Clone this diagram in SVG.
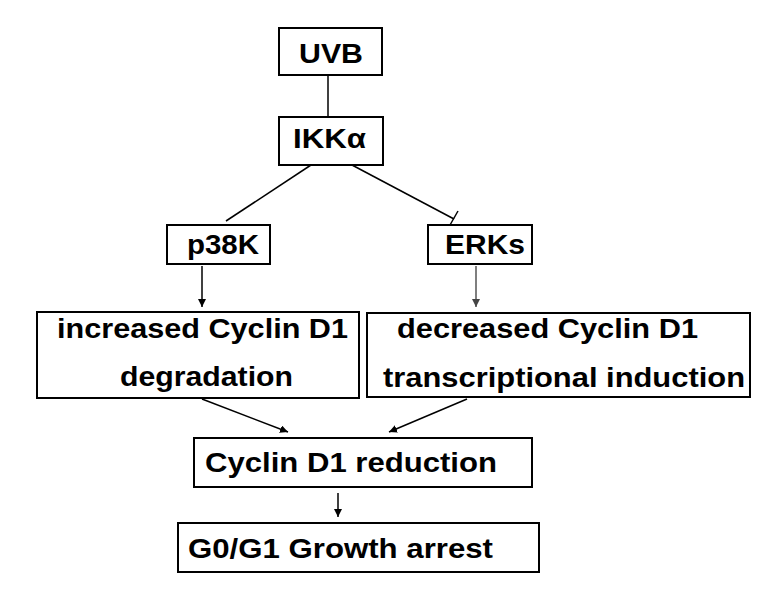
<svg xmlns="http://www.w3.org/2000/svg" width="774" height="600" viewBox="0 0 774 600">
<style>
.box{fill:#fff;stroke:#000;stroke-width:2}
.t{font-family:"Liberation Sans",Arial,sans-serif;font-weight:bold;font-size:27px;fill:#000}
.c{stroke:#000;stroke-width:1.5;fill:none}
</style>
<defs>
<marker id="ah" viewBox="0 0 10 10" refX="10" refY="5" markerWidth="8" markerHeight="8" markerUnits="userSpaceOnUse" orient="auto">
<path d="M0,0 L10,5 L0,10 z" fill="#000"/>
</marker>
<marker id="ahg" viewBox="0 0 10 10" refX="10" refY="5" markerWidth="8" markerHeight="8" markerUnits="userSpaceOnUse" orient="auto">
<path d="M0,0 L10,5 L0,10 z" fill="#444"/>
</marker>
</defs>
<rect width="774" height="600" fill="#fff"/>
<g id="connectors">
<line class="c" x1="328" y1="75" x2="328" y2="117"/>
<line class="c" x1="311" y1="165" x2="226" y2="221"/>
<line class="c" x1="352" y1="165" x2="454" y2="219"/>
<line class="c" x1="458" y1="211" x2="450" y2="225"/>
<line class="c" x1="202" y1="266" x2="202" y2="307" marker-end="url(#ah)"/>
<line class="c" x1="476" y1="266" x2="476" y2="307" stroke="#555" marker-end="url(#ahg)" style="stroke:#555"/>
<line class="c" x1="202" y1="399" x2="288" y2="432" marker-end="url(#ah)"/>
<line class="c" x1="467" y1="399" x2="389" y2="432" marker-end="url(#ah)"/>
<line class="c" x1="338" y1="493" x2="338" y2="517" marker-end="url(#ah)"/>
</g>
<g id="uvb">
<rect class="box" x="279" y="28" width="103" height="47"/>
<text class="t" x="299" y="63" textLength="64" lengthAdjust="spacingAndGlyphs">UVB</text>
</g>
<g id="ikka">
<rect class="box" x="279" y="117" width="104" height="48"/>
<text class="t" x="293" y="148" textLength="73" lengthAdjust="spacingAndGlyphs">IKKα</text>
</g>
<g id="p38k">
<rect class="box" x="167" y="225" width="103" height="39"/>
<text class="t" x="187" y="254" textLength="72" lengthAdjust="spacingAndGlyphs">p38K</text>
</g>
<g id="erks">
<rect class="box" x="428" y="225" width="104" height="39"/>
<text class="t" x="445" y="254" textLength="80" lengthAdjust="spacingAndGlyphs">ERKs</text>
</g>
<g id="increased">
<rect class="box" x="37" y="312" width="322" height="86"/>
<text class="t" x="57" y="338" textLength="291" lengthAdjust="spacingAndGlyphs">increased Cyclin D1</text>
<text class="t" x="120" y="386" textLength="173" lengthAdjust="spacingAndGlyphs">degradation</text>
</g>
<g id="decreased">
<rect class="box" x="367" y="313" width="383" height="84"/>
<text class="t" x="397" y="338" textLength="301" lengthAdjust="spacingAndGlyphs">decreased Cyclin D1</text>
<text class="t" x="383" y="387" textLength="362" lengthAdjust="spacingAndGlyphs">transcriptional induction</text>
</g>
<g id="reduction">
<rect class="box" x="194" y="438" width="338" height="49"/>
<text class="t" x="205" y="472" textLength="292" lengthAdjust="spacingAndGlyphs">Cyclin D1 reduction</text>
</g>
<g id="arrest">
<rect class="box" x="178" y="523" width="361" height="49"/>
<text class="t" x="188" y="558" textLength="305" lengthAdjust="spacingAndGlyphs">G0/G1 Growth arrest</text>
</g>
</svg>
